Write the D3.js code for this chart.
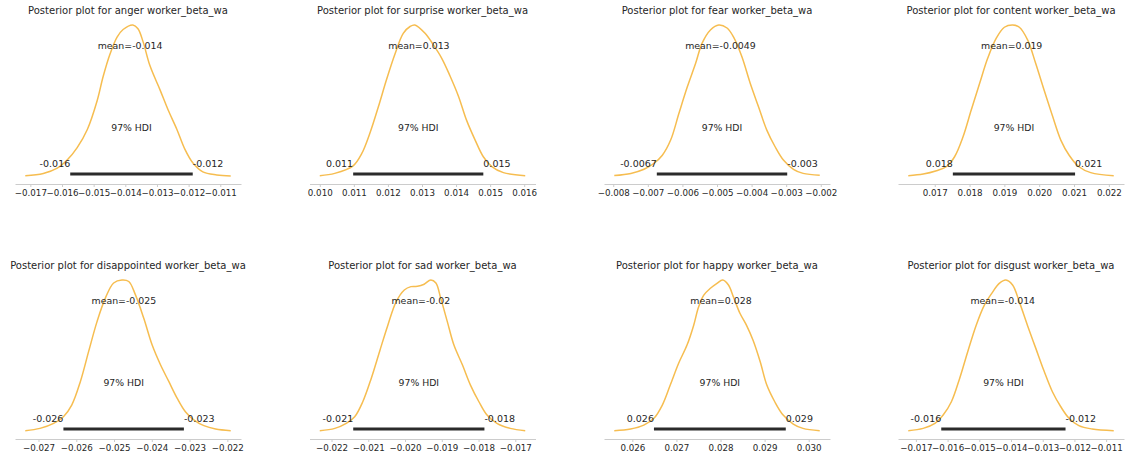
<!DOCTYPE html>
<html>
<head>
<meta charset="utf-8">
<script src="https://cdn.jsdelivr.net/npm/d3@7"></script>
<style>
  body { margin: 0; background: #fff; }
  text { font-family: "DejaVu Sans", sans-serif; }
</style>
</head>
<body>
<div id="chart"></div>
<script>
// emotions, in panel order
const emotions = ["anger", "surprise", "fear", "content", "disappointed", "sad", "happy", "disgust"];

const meanValues = [-0.01385, 0.01291, -0.00490, 0.01921, -0.02474, -0.01957, 0.02801, -0.01426];
const hdiLow = [-0.01574, 0.01098, -0.00674, 0.01752, -0.02634, -0.02141, 0.02649, -0.01620];
const hdiHigh = [-0.01187, 0.01480, -0.00297, 0.02103, -0.02315, -0.01784, 0.02948, -0.01228];

const tickValues = [
  [-0.017, -0.016, -0.015, -0.014, -0.013, -0.012, -0.011],
  [0.010, 0.011, 0.012, 0.013, 0.014, 0.015, 0.016],
  [-0.008, -0.007, -0.006, -0.005, -0.004, -0.003, -0.002],
  [0.017, 0.018, 0.019, 0.020, 0.021, 0.022],
  [-0.027, -0.026, -0.025, -0.024, -0.023, -0.022],
  [-0.022, -0.021, -0.020, -0.019, -0.018, -0.017],
  [0.026, 0.027, 0.028, 0.029, 0.030],
  [-0.017, -0.016, -0.015, -0.014, -0.013, -0.012, -0.011]
];

// kde curves: [value, density relative to peak]
const kdeAnger = [[-0.01716,0.005],[-0.01659,0.02],[-0.01615,0.055],[-0.01583,0.11],[-0.01552,0.19],[-0.01520,0.31],
  [-0.01489,0.50],[-0.01470,0.66],[-0.01448,0.81],[-0.01426,0.92],[-0.01407,0.97],[-0.01376,1.0],[-0.01360,0.975],
  [-0.01344,0.89],[-0.01322,0.73],[-0.01290,0.57],[-0.01265,0.44],[-0.01237,0.31],[-0.01212,0.18],[-0.01187,0.09],
  [-0.01155,0.03],[-0.01111,0.01],[-0.01067,0.003]];
const kdeSurprise = [[0.01000,0.005],[0.01044,0.02],[0.01098,0.07],[0.01123,0.15],[0.01147,0.285],[0.01172,0.46],
  [0.01196,0.64],[0.01221,0.81],[0.01245,0.945],[0.01265,0.99],[0.01279,1.0],[0.01309,0.945],[0.01333,0.87],
  [0.01358,0.78],[0.01382,0.665],[0.01407,0.53],[0.01431,0.37],[0.01456,0.24],[0.01480,0.13],[0.01505,0.065],
  [0.01539,0.025],[0.01603,0.005]];
const kdeFear = [[-0.00797,0.006],[-0.00749,0.02],[-0.00711,0.047],[-0.00682,0.087],[-0.00658,0.14],[-0.00634,0.24],
  [-0.00610,0.417],[-0.00586,0.59],[-0.00562,0.745],[-0.00543,0.88],[-0.00519,0.967],[-0.00495,1.0],[-0.00471,0.98],
  [-0.00452,0.92],[-0.00428,0.79],[-0.00404,0.615],[-0.00380,0.46],[-0.00356,0.306],[-0.00332,0.196],[-0.00308,0.108],
  [-0.00279,0.047],[-0.00251,0.02],[-0.00203,0.008]];
const kdeContent = [[0.01624,0.005],[0.01667,0.016],[0.01705,0.038],[0.01733,0.064],[0.01757,0.13],[0.01781,0.26],
  [0.01805,0.44],[0.01829,0.615],[0.01852,0.78],[0.01876,0.91],[0.01900,0.985],[0.01924,1.0],[0.01943,0.985],
  [0.01967,0.90],[0.01990,0.745],[0.02014,0.57],[0.02038,0.40],[0.02062,0.24],[0.02086,0.14],[0.02114,0.064],
  [0.02148,0.025],[0.02214,0.005]];
const kdeDisappointed = [[-0.02735,0.005],[-0.02696,0.02],[-0.02660,0.053],[-0.02634,0.097],[-0.02612,0.174],
  [-0.02589,0.33],[-0.02567,0.53],[-0.02545,0.725],[-0.02523,0.88],[-0.02501,0.98],[-0.02479,1.0],[-0.02461,0.99],
  [-0.02443,0.90],[-0.02421,0.745],[-0.02399,0.57],[-0.02377,0.44],[-0.02355,0.33],[-0.02333,0.22],[-0.02311,0.13],
  [-0.02288,0.075],[-0.02262,0.038],[-0.02231,0.016],[-0.02191,0.005]];
const kdeSad = [[-0.02232,0.005],[-0.02191,0.02],[-0.02160,0.053],[-0.02137,0.097],[-0.02115,0.196],[-0.02092,0.35],
  [-0.02069,0.53],[-0.02047,0.70],[-0.02024,0.857],[-0.02002,0.934],[-0.01984,0.956],[-0.01966,0.958],[-0.01948,0.972],
  [-0.01930,1.0],[-0.01916,0.98],[-0.01903,0.88],[-0.01885,0.725],[-0.01867,0.57],[-0.01844,0.44],[-0.01822,0.306],
  [-0.01799,0.196],[-0.01777,0.108],[-0.01750,0.053],[-0.01714,0.02],[-0.01673,0.005]];
const kdeHappy = [[0.02559,0.005],[0.02596,0.016],[0.02626,0.042],[0.02649,0.087],[0.02668,0.174],[0.02686,0.306],
  [0.02705,0.45],[0.02724,0.57],[0.02739,0.70],[0.02750,0.82],[0.02762,0.90],[0.02777,0.945],[0.02792,0.978],
  [0.02805,1.0],[0.02818,0.967],[0.02829,0.89],[0.02844,0.78],[0.02859,0.70],[0.02874,0.60],[0.02890,0.46],
  [0.02905,0.306],[0.02923,0.196],[0.02942,0.108],[0.02965,0.049],[0.02987,0.02],[0.03025,0.005]];
const kdeDisgust = [[-0.01724,0.005],[-0.01677,0.02],[-0.01640,0.053],[-0.01614,0.108],[-0.01588,0.196],[-0.01562,0.35],
  [-0.01536,0.53],[-0.01510,0.70],[-0.01484,0.834],[-0.01458,0.92],[-0.01437,0.978],[-0.01416,1.0],[-0.01395,0.967],
  [-0.01374,0.857],[-0.01348,0.70],[-0.01322,0.55],[-0.01296,0.40],[-0.01269,0.26],[-0.01243,0.163],[-0.01217,0.087],
  [-0.01186,0.038],[-0.01144,0.016],[-0.01076,0.005]];

const kdeCurves = [kdeAnger, kdeSurprise, kdeFear, kdeContent, kdeDisappointed, kdeSad, kdeHappy, kdeDisgust];

const width = 1130, height = 459;
const axW = 226, axH = 166.6;
const colLeft = [15, 309.5, 604, 898];
const rowBottom = [184, 439];

// python style labels with a plain hyphen
const pyFmt = d3.formatLocale({decimal: ".", thousands: ",", grouping: [3], currency: ["", ""], minus: "-"}).format(".2~g");

const svg = d3.select("#chart").append("svg")
    .attr("width", width)
    .attr("height", height)
    .style("background", "#fff");

emotions.forEach(function (emo, i) {
    var left = colLeft[i % 4];
    var bottom = rowBottom[Math.floor(i / 4)];
    var data = kdeCurves[i];
    var ext = d3.extent(data, d => d[0]);
    var pad = (ext[1] - ext[0]) * 0.05;

    var x = d3.scaleLinear().domain([ext[0] - pad, ext[1] + pad]).range([left, left + axW]);
    var y = d3.scaleLinear().domain([-0.05, 1.05]).range([bottom, bottom - axH]);

    var g = svg.append("g");

    g.append("text")
        .attr("x", left + axW / 2)
        .attr("y", bottom - 170)
        .attr("text-anchor", "middle")
        .attr("font-size", 10)
        .attr("fill", "#262626")
        .text("Posterior plot for " + emo + " worker_beta_wa");

    var axis = g.append("g")
        .attr("transform", "translate(0," + bottom + ")")
        .call(d3.axisBottom(x).tickValues(tickValues[i]).tickFormat(d3.format(".3f"))
            .tickSize(3).tickSizeOuter(0).tickPadding(2.5));
    axis.select(".domain").attr("stroke", "#cccccc").attr("stroke-width", 1);
    axis.selectAll(".tick line").attr("stroke", "#cccccc");
    axis.selectAll(".tick text")
        .attr("font-size", 8.7)
        .attr("font-family", "DejaVu Sans")
        .attr("fill", "#262626");

    var line = d3.line()
        .x(d => x(d[0]))
        .y(d => y(d[1]))
        .curve(d3.curveCatmullRom.alpha(0.5));

    g.append("path")
        .datum(data)
        .attr("d", line)
        .attr("fill", "none")
        .attr("stroke", "#f6bd50")
        .attr("stroke-width", 1.5);

    // hdi bar
    g.append("line")
        .attr("x1", x(hdiLow[i]))
        .attr("x2", x(hdiHigh[i]))
        .attr("y1", y(0.016))
        .attr("y2", y(0.016))
        .attr("stroke", "#2b2b2b")
        .attr("stroke-width", 3);

    g.append("text")
        .attr("x", x(hdiLow[i]))
        .attr("y", y(0.062))
        .attr("text-anchor", "end")
        .attr("font-size", 9.5)
        .attr("fill", "#262626")
        .text(pyFmt(hdiLow[i]));

    g.append("text")
        .attr("x", x(hdiHigh[i]))
        .attr("y", y(0.062))
        .attr("text-anchor", "start")
        .attr("font-size", 9.5)
        .attr("fill", "#262626")
        .text(pyFmt(hdiHigh[i]));

    g.append("text")
        .attr("x", x((hdiLow[i] + hdiHigh[i]) / 2))
        .attr("y", y(0.303))
        .attr("text-anchor", "middle")
        .attr("font-size", 9.3)
        .attr("fill", "#262626")
        .text("97% HDI");

    g.append("text")
        .attr("x", x(meanValues[i]))
        .attr("y", y(0.84))
        .attr("text-anchor", "middle")
        .attr("font-size", 9.4)
        .attr("fill", "#262626")
        .text("mean=" + pyFmt(meanValues[i]));
});
</script>
</body>
</html>
